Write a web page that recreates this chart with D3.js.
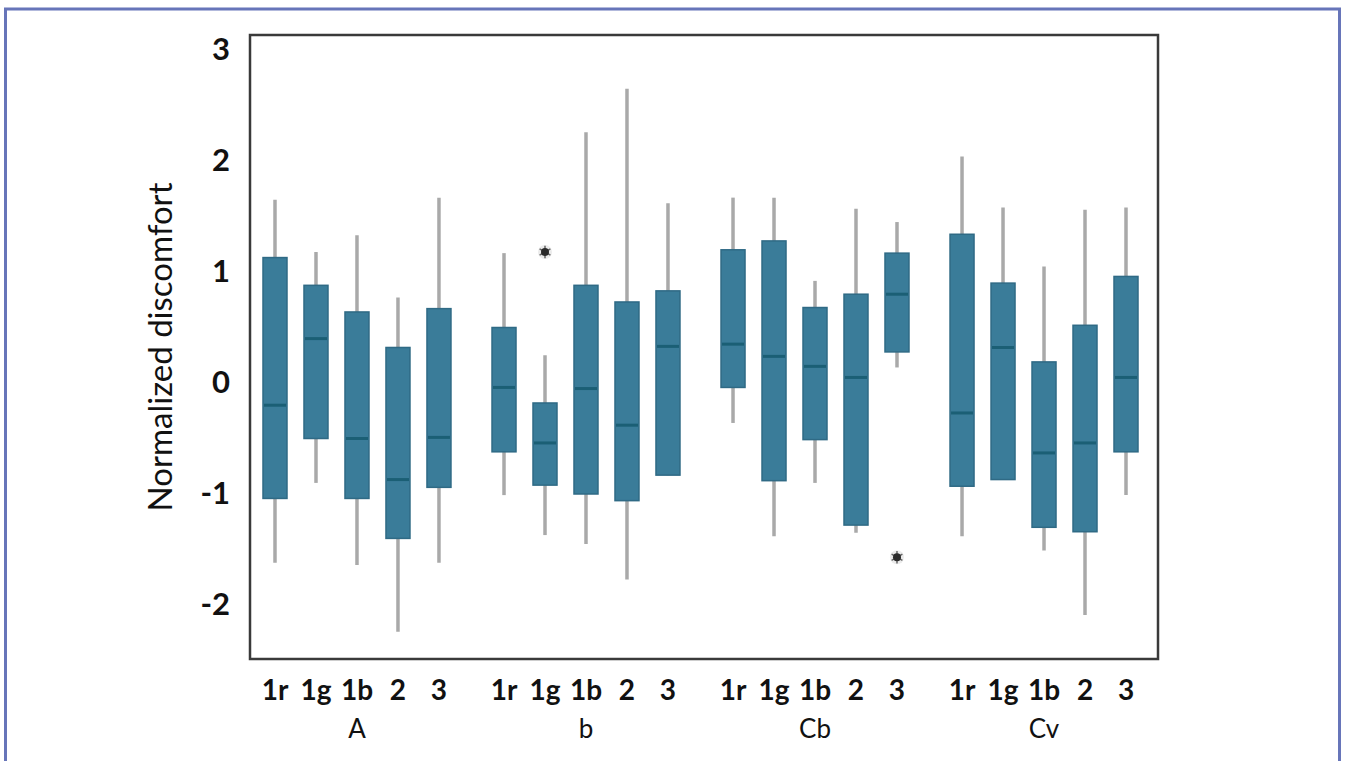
<!DOCTYPE html>
<html lang="en">
<head>
    <meta charset="UTF-8">
    <title>Normalized discomfort</title>
    <style>
        body { margin: 0; background: #fff; }
        svg { display: block; }
        text { font-family: Lato, "Noto Sans", sans-serif; fill: #111; }
    </style>
</head>
<body>
    <div id="chart"></div>

    <script src="https://cdnjs.cloudflare.com/ajax/libs/d3/7.8.5/d3.min.js"></script>
    <script>
        // groups and conditions along the x axis
        const groups = ["A", "b", "Cb", "Cv"];
        const conditions = ["1r", "1g", "1b", "2", "3"];
        const yTicks = [-2, -1, 0, 1, 2, 3];

        // box statistics, group by group, in the order of the conditions
        const whiskerHigh = [1.65, 1.18, 1.33, 0.77, 1.67,  1.17, 0.25, 2.26, 2.65, 1.62,  1.67, 1.67, 0.92, 1.57, 1.45,  2.04, 1.58, 1.05, 1.56, 1.58];
        const q3 =          [1.13, 0.88, 0.64, 0.32, 0.67,  0.50, -0.18, 0.88, 0.73, 0.83,  1.20, 1.28, 0.68, 0.80, 1.17,  1.34, 0.90, 0.19, 0.52, 0.96];
        const medians =     [-0.20, 0.40, -0.50, -0.87, -0.49,  -0.04, -0.54, -0.05, -0.38, 0.33,  0.35, 0.24, 0.15, 0.05, 0.80,  -0.27, 0.32, -0.63, -0.54, 0.05];
        const q1 =          [-1.04, -0.50, -1.04, -1.40, -0.94,  -0.62, -0.92, -1.00, -1.06, -0.83,  -0.04, -0.88, -0.51, -1.28, 0.28,  -0.93, -0.87, -1.30, -1.34, -0.62];
        const whiskerLow =  [-1.62, -0.90, -1.64, -2.24, -1.62,  -1.01, -1.37, -1.45, -1.77, -0.83,  -0.36, -1.38, -0.90, -1.35, 0.14,  -1.38, -0.87, -1.51, -2.09, -1.01];

        // outliers: [group, condition, value]
        const outliers = [["b", "1g", 1.18], ["Cb", "3", -1.57]];

        const boxes = [];
        groups.forEach((g, gi) => {
            conditions.forEach((c, ci) => {
                const i = gi * conditions.length + ci;
                boxes.push({
                    group: g, cond: c,
                    hi: whiskerHigh[i], q3: q3[i], med: medians[i], q1: q1[i], lo: whiskerLow[i]
                });
            });
        });

        const width = 1345;
        const height = 761;
        const plot = { left: 250, top: 35, right: 1158, bottom: 659 };

        const svg = d3.select("#chart").append("svg")
            .attr("width", width)
            .attr("height", height);

        // outer blue frame (bottom edge runs off the page)
        svg.append("rect")
            .attr("x", 5.5).attr("y", 9)
            .attr("width", 1334).attr("height", 790)
            .attr("fill", "none")
            .attr("stroke", "#6775b9")
            .attr("stroke-width", 3);

        const x = d3.scaleBand()
            .domain(groups)
            .range([plot.left + 4.5, plot.right - 11.5])
            .paddingInner(0.105);

        const xInner = d3.scalePoint()
            .domain(conditions)
            .range([0, x.bandwidth()])
            .padding(0.5);

        const y = d3.scaleLinear()
            .domain([-2, 3])
            .range([605, 50]);

        const cx = d => x(d.group) + xInner(d.cond);
        const boxW = 24;

        // whiskers
        svg.append("g").selectAll("line")
            .data(boxes)
            .join("line")
            .attr("x1", cx).attr("x2", cx)
            .attr("y1", d => y(d.hi))
            .attr("y2", d => y(d.lo))
            .attr("stroke", "#a9a9a9")
            .attr("stroke-width", 3.5);

        // boxes
        svg.append("g").selectAll("rect")
            .data(boxes)
            .join("rect")
            .attr("x", d => cx(d) - boxW / 2)
            .attr("y", d => y(d.q3))
            .attr("width", boxW)
            .attr("height", d => y(d.q1) - y(d.q3))
            .attr("fill", "#3a7c99")
            .attr("stroke", "#2f6a85")
            .attr("stroke-width", 1.5);

        // medians
        svg.append("g").selectAll("line")
            .data(boxes)
            .join("line")
            .attr("x1", d => cx(d) - boxW / 2 + 1)
            .attr("x2", d => cx(d) + boxW / 2 - 1)
            .attr("y1", d => y(d.med))
            .attr("y2", d => y(d.med))
            .attr("stroke", "#1b5f75")
            .attr("stroke-width", 3);

        // outliers
        const star = d3.symbol().type(d3.symbolAsterisk).size(110);
        const outG = svg.append("g").selectAll("g")
            .data(outliers)
            .join("g")
            .attr("transform", d => `translate(${x(d[0]) + xInner(d[1])},${y(d[2])})`);
        outG.append("circle")
            .attr("r", 7)
            .attr("fill", "#ddd")
            .attr("opacity", 0.6);
        outG.append("path")
            .attr("d", star)
            .attr("fill", "none")
            .attr("stroke", "#666")
            .attr("stroke-width", 1.5);
        outG.append("circle")
            .attr("r", 4)
            .attr("fill", "#2a2a2a");

        // plot frame
        svg.append("rect")
            .attr("x", plot.left).attr("y", plot.top)
            .attr("width", plot.right - plot.left)
            .attr("height", plot.bottom - plot.top)
            .attr("fill", "none")
            .attr("stroke", "#3a3a3a")
            .attr("stroke-width", 2.5);

        // y axis, labels only
        const yAxis = svg.append("g")
            .attr("transform", `translate(${plot.left - 20},0)`)
            .call(d3.axisLeft(y).tickValues(yTicks).tickSize(0).tickPadding(0).tickFormat(d => String(d)));
        yAxis.select(".domain").remove();
        yAxis.selectAll("text")
            .style("font-family", "Lato, 'Noto Sans', sans-serif")
            .style("font-size", "31px")
            .style("font-weight", "bold")
            .attr("fill", "#111");

        svg.append("text")
            .attr("transform", `translate(172,${(plot.top + plot.bottom) / 2}) rotate(-90)`)
            .attr("text-anchor", "middle")
            .style("font-size", "33px")
            .text("Normalized discomfort");

        // x labels
        svg.append("g").selectAll("text")
            .data(boxes)
            .join("text")
            .attr("x", cx)
            .attr("y", 700)
            .attr("text-anchor", "middle")
            .style("font-size", "28px")
            .style("font-weight", "bold")
            .text(d => d.cond);

        svg.append("g").selectAll("text")
            .data(groups)
            .join("text")
            .attr("x", d => x(d) + x.bandwidth() / 2)
            .attr("y", 738)
            .attr("text-anchor", "middle")
            .style("font-size", "26px")
            .text(d => d);
    </script>
</body>
</html>
